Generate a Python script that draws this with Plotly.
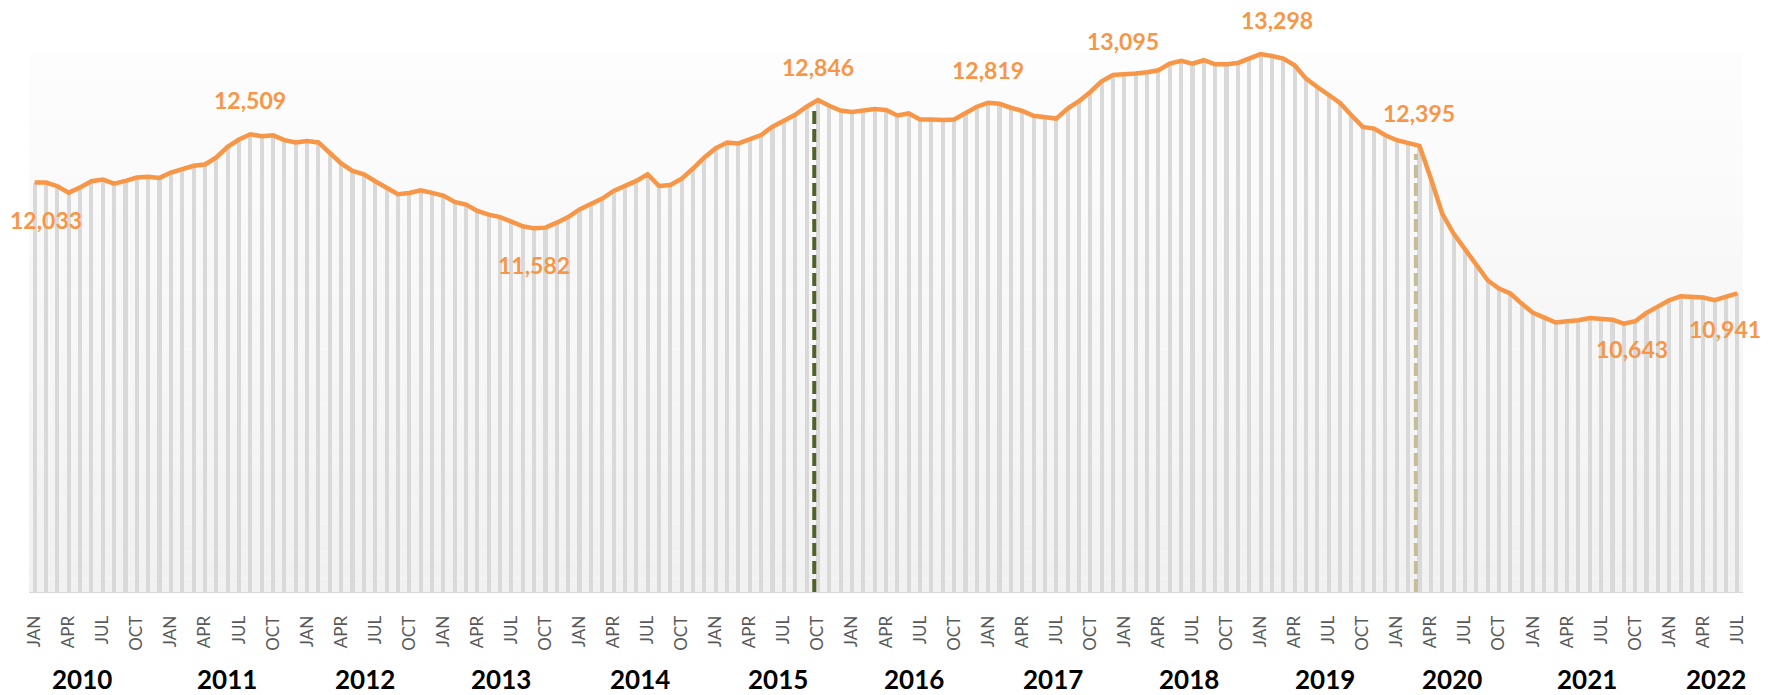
import plotly.graph_objects as go

# ---------------- data ----------------
years = list(range(2010, 2023))
month_abbr = ["JAN", "FEB", "MAR", "APR", "MAY", "JUN", "JUL", "AUG", "SEP", "OCT", "NOV", "DEC"]

v2010 = [12033, 12033, 11997, 11934, 11984, 12046, 12063, 12023, 12049, 12082, 12089, 12079]
v2011 = [12132, 12165, 12198, 12211, 12280, 12385, 12457, 12509, 12490, 12498, 12451, 12428]
v2012 = [12441, 12428, 12326, 12221, 12148, 12115, 12046, 11987, 11918, 11931, 11957, 11931]
v2013 = [11905, 11842, 11816, 11753, 11717, 11693, 11651, 11602, 11582, 11589, 11638, 11693]
v2014 = [11769, 11826, 11875, 11950, 11996, 12049, 12115, 11999, 12009, 12072, 12171, 12280]
v2015 = [12372, 12428, 12418, 12462, 12501, 12583, 12642, 12701, 12780, 12846, 12790, 12742]
v2016 = [12728, 12744, 12757, 12747, 12694, 12714, 12655, 12655, 12649, 12655, 12721, 12780]
v2017 = [12819, 12809, 12770, 12738, 12690, 12673, 12663, 12762, 12834, 12925, 13031, 13093]
v2018 = [13095, 13107, 13119, 13139, 13205, 13231, 13205, 13238, 13198, 13198, 13211, 13250]
v2019 = [13298, 13280, 13254, 13188, 13057, 12974, 12893, 12817, 12696, 12581, 12565, 12499]
v2020 = [12450, 12423, 12395, 12072, 11728, 11531, 11383, 11235, 11071, 10989, 10940, 10841]
v2021 = [10749, 10703, 10655, 10667, 10677, 10699, 10693, 10682, 10643, 10667, 10749, 10808]
v2022 = [10874, 10913, 10906, 10900, 10874, 10913, 10941]

values = v2010 + v2011 + v2012 + v2013 + v2014 + v2015 + v2016 + v2017 + v2018 + v2019 + v2020 + v2021 + v2022
months = [f"{month_abbr[k % 12]} {2010 + k // 12}" for k in range(len(values))]
idx = list(range(len(values)))

# month labels shown on the axis (every 3 months)
tick_idx = [k for k in idx if k % 3 == 0]
tick_text = [month_abbr[k % 12] for k in tick_idx]

# labelled points (month index)
label_points = [0, 19, 44, 69, 84, 96, 108, 122, 140, 150]
# reference (dashed) months
ref_green = 69   # OCT 2015
ref_tan = 122    # MAR 2020

# ---------------- styling ----------------
ORANGE = "#F79646"
BAR = "#D9D9D9"
Y_MIN, Y_MAX = 8000, 13447
BG_TOP = 13307

label_offsets = {  # (xshift, yshift) in px
    0: (11, -37), 19: (0, 34), 44: (0, -37), 69: (0, 33), 84: (0, 33),
    96: (-1, 34), 108: (16, 34), 122: (-1, 33), 140: (8, -25), 150: (-12, -36),
}
year_label_x = [4.2, 16.9, 29.1, 41.1, 53.3, 65.5, 77.5, 89.7, 101.7, 113.7, 124.9, 136.8, 148.1]

fig = go.Figure()

fig.add_trace(go.Bar(
    x=idx, y=values, width=0.36, marker_color=BAR, marker_line_width=0,
    hovertext=months, hoverinfo="text+y", showlegend=False,
))

def ref_line(k, color):
    fig.add_trace(go.Scatter(
        x=[k - 0.32, k - 0.32], y=[Y_MIN, values[k] - 80], mode="lines",
        line=dict(color=color, width=4, dash="13px,5px"),
        hoverinfo="skip", showlegend=False,
    ))

ref_line(ref_green, "#4F6228")
ref_line(ref_tan, "#C4BD97")

fig.add_trace(go.Scatter(
    x=idx, y=values, mode="lines", line=dict(color=ORANGE, width=4.5),
    hovertext=months, hoverinfo="text+y", showlegend=False,
))

# background gradient (white at top to light grey at bottom)
N = 40
shapes = []
for b in range(N):
    f = b / (N - 1)
    c = round(241 + (253 - 241) * f)
    y0 = Y_MIN + (BG_TOP - Y_MIN) * b / N
    y1 = Y_MIN + (BG_TOP - Y_MIN) * (b + 1) / N
    shapes.append(dict(type="rect", xref="paper", yref="y", x0=0, x1=1, y0=y0, y1=y1,
                       fillcolor=f"rgb({c},{c},{c})", line_width=0, layer="below"))

annotations = []
for k in label_points:
    xs, ys = label_offsets[k]
    annotations.append(dict(
        x=k, y=values[k], xref="x", yref="y", text=f"{values[k]:,}", showarrow=False,
        xshift=xs, yshift=ys, font=dict(family="Lato", size=23, color=ORANGE, weight="bold"),
    ))
for yx, yr in zip(year_label_x, years):
    annotations.append(dict(
        x=yx, y=0, xref="x", yref="paper", text=str(yr), showarrow=False,
        yanchor="middle", yshift=-87,
        font=dict(family="Lato", size=26, color="#000000", weight="bold"),
    ))

fig.update_layout(
    width=1775, height=695,
    margin=dict(l=29, r=32, t=39, b=103),
    paper_bgcolor="white", plot_bgcolor="white",
    bargap=0, shapes=shapes, annotations=annotations,
    xaxis=dict(
        range=[-0.5, 150.5], tickmode="array", tickvals=tick_idx, ticktext=tick_text,
        tickangle=-90, ticks="", ticklabelstandoff=16, showgrid=False, zeroline=False,
        showline=True, linecolor="#D9D9D9", linewidth=1,
        tickfont=dict(family="Lato", size=17, color="#595959"),
    ),
    yaxis=dict(range=[Y_MIN, Y_MAX], visible=False, showgrid=False, zeroline=False),
)

fig.write_html(
    "out.html",
    config={"displayModeBar": False},
    post_script="document.body.style.margin='0';document.body.style.overflow='hidden';",
)
